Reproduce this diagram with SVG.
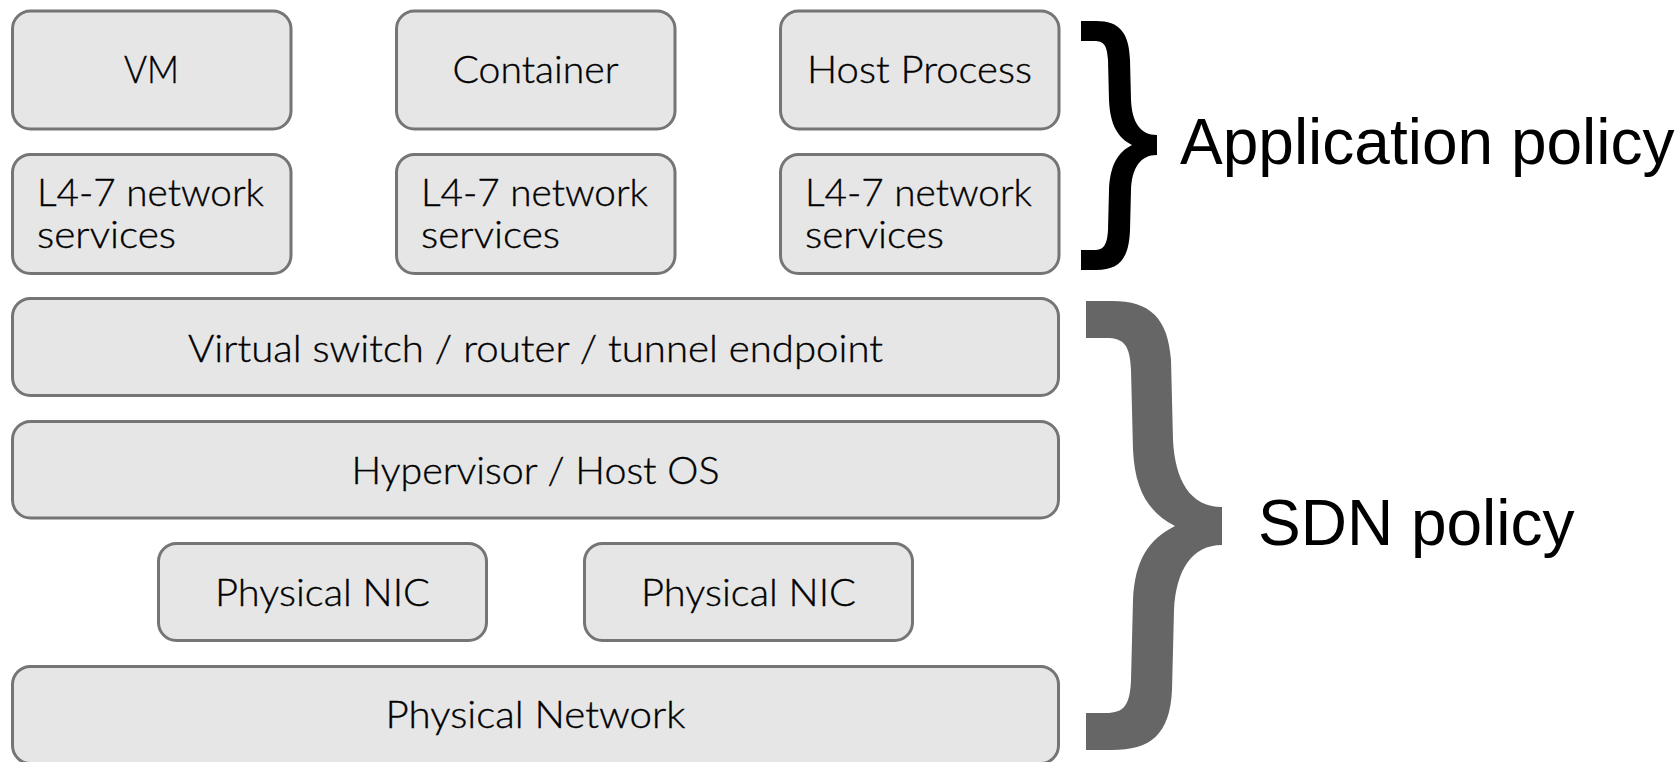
<svg xmlns="http://www.w3.org/2000/svg" width="1677" height="762" viewBox="0 0 1677 762">
  <style>
    .box rect { fill: #e6e6e6; stroke: #757575; stroke-width: 3; }
    .lbl { font-family: Lato, "Open Sans", "Liberation Sans", sans-serif; font-weight: 300; font-size: 37px; fill: #000000; stroke: #000000; stroke-width: 0.35; }
    .mid { text-anchor: middle; }
    .policy { font-family: "Liberation Sans", Arial, sans-serif; font-size: 64px; fill: #000000; }
  </style>

  <!-- workload row -->
  <g id="vm" class="box">
    <rect x="12.5" y="11" width="278.5" height="118" rx="18"/>
    <text class="lbl mid" x="151.5" y="83" textLength="55" lengthAdjust="spacingAndGlyphs">VM</text>
  </g>
  <g id="container" class="box">
    <rect x="396.5" y="11" width="278.5" height="118" rx="18"/>
    <text class="lbl mid" x="535.5" y="83" textLength="166" lengthAdjust="spacingAndGlyphs">Container</text>
  </g>
  <g id="host-process" class="box">
    <rect x="780.5" y="11" width="278.5" height="118" rx="18"/>
    <text class="lbl mid" x="919.5" y="83" textLength="225" lengthAdjust="spacingAndGlyphs">Host Process</text>
  </g>

  <!-- L4-7 service row -->
  <g id="services-vm" class="box">
    <rect x="12.5" y="154.5" width="278.5" height="119" rx="18"/>
    <text class="lbl" x="37" y="206" textLength="227" lengthAdjust="spacingAndGlyphs">L4-7 network</text>
    <text class="lbl" x="37" y="248" textLength="139" lengthAdjust="spacingAndGlyphs">services</text>
  </g>
  <g id="services-container" class="box">
    <rect x="396.5" y="154.5" width="278.5" height="119" rx="18"/>
    <text class="lbl" x="421" y="206" textLength="227" lengthAdjust="spacingAndGlyphs">L4-7 network</text>
    <text class="lbl" x="421" y="248" textLength="139" lengthAdjust="spacingAndGlyphs">services</text>
  </g>
  <g id="services-host" class="box">
    <rect x="780.5" y="154.5" width="278.5" height="119" rx="18"/>
    <text class="lbl" x="805" y="206" textLength="227" lengthAdjust="spacingAndGlyphs">L4-7 network</text>
    <text class="lbl" x="805" y="248" textLength="139" lengthAdjust="spacingAndGlyphs">services</text>
  </g>

  <!-- host layers -->
  <g id="virtual-switch" class="box">
    <rect x="12.5" y="298.5" width="1046" height="97" rx="18"/>
    <text class="lbl mid" x="535.5" y="362" textLength="695" lengthAdjust="spacingAndGlyphs">Virtual switch / router / tunnel endpoint</text>
  </g>
  <g id="hypervisor" class="box">
    <rect x="12.5" y="421.5" width="1046" height="96.5" rx="18"/>
    <text class="lbl mid" x="535.5" y="484" textLength="368" lengthAdjust="spacingAndGlyphs">Hypervisor / Host OS</text>
  </g>
  <g id="nic-1" class="box">
    <rect x="158.5" y="543.5" width="328" height="97" rx="18"/>
    <text class="lbl mid" x="322.5" y="606" textLength="215" lengthAdjust="spacingAndGlyphs">Physical NIC</text>
  </g>
  <g id="nic-2" class="box">
    <rect x="584.5" y="543.5" width="328" height="97" rx="18"/>
    <text class="lbl mid" x="748.5" y="606" textLength="215" lengthAdjust="spacingAndGlyphs">Physical NIC</text>
  </g>
  <g id="physical-network" class="box">
    <rect x="12.5" y="666.5" width="1046" height="97" rx="18"/>
    <text class="lbl mid" x="535.5" y="728" textLength="300" lengthAdjust="spacingAndGlyphs">Physical Network</text>
  </g>

  <!-- policy braces -->
  <g id="connectors">
    <path id="app-brace" fill="#000000" d="M1081,21 H1096 C1120,21 1129,33 1130,60 L1131,100 C1132,122 1140,135 1157,135 L1157,155 C1140,155 1132,168 1131,190 L1130,230 C1129,258 1120,270 1096,270 H1081 V250 H1094 C1104,250 1107,245 1108,230 L1109,190 C1110,165 1118,152 1132,145 C1118,138 1110,125 1109,100 L1108,60 C1107,45 1104,41 1094,41 H1081 Z"/>
    <path id="sdn-brace" fill="#666666" d="M1086,301 H1112 C1150,301 1168,318 1171,360 L1173,440 C1175,480 1190,507 1222,507 L1222,545 C1192,545 1176,570 1174,610 L1172,690 C1170,735 1150,750 1112,750 H1086 V713 H1106 C1124,713 1130,705 1131,680 L1133,600 C1135,560 1148,540 1175,526 C1148,512 1135,490 1133,450 L1131,370 C1130,345 1124,338 1106,338 H1086 Z"/>
  </g>

  <g id="application-policy">
    <text class="policy" x="1180" y="164">Application policy</text>
  </g>
  <g id="sdn-policy">
    <text class="policy" x="1258" y="545">SDN policy</text>
  </g>
</svg>
